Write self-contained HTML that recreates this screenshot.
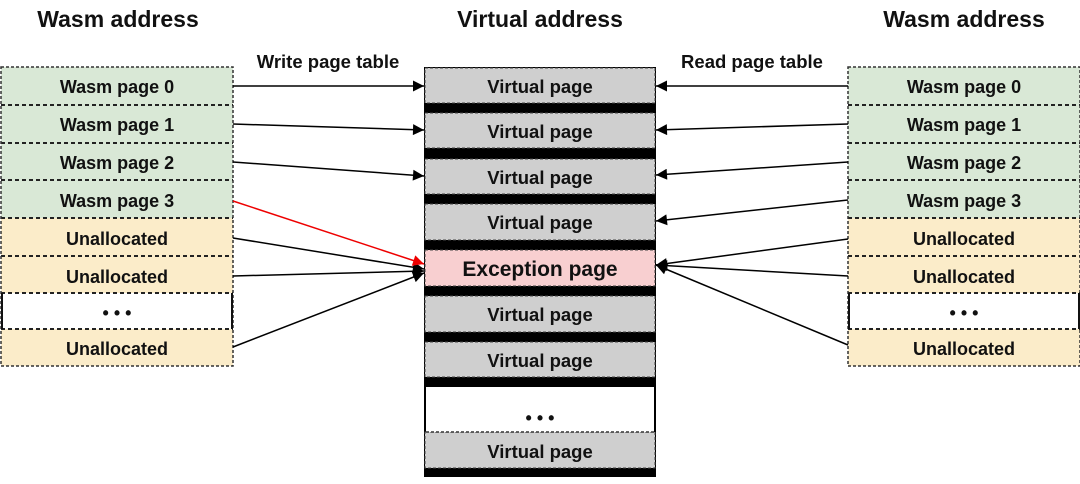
<!DOCTYPE html>
<html><head><style>
body{margin:0;width:1080px;height:479px;background:#fff;overflow:hidden;font-family:"Liberation Sans",sans-serif;font-weight:bold;color:#111}
svg text{font-family:"Liberation Sans",sans-serif;font-weight:bold;fill:#111}
</style></head><body>
<svg width="1080" height="479" xmlns="http://www.w3.org/2000/svg">
<defs>
<marker id="a" viewBox="0 0 10 10" refX="10" refY="5" markerWidth="12" markerHeight="11" orient="auto" markerUnits="userSpaceOnUse"><path d="M0,0L10,5L0,10z" fill="#000"/></marker>
<marker id="r" viewBox="0 0 10 10" refX="10" refY="5" markerWidth="12" markerHeight="11" orient="auto" markerUnits="userSpaceOnUse"><path d="M0,0L10,5L0,10z" fill="#e00"/></marker>
</defs>
<text x="118" y="27" font-size="23" text-anchor="middle">Wasm address</text>
<text x="540" y="27" font-size="23" text-anchor="middle">Virtual address</text>
<text x="964" y="27" font-size="23" text-anchor="middle">Wasm address</text>
<text x="328" y="68" font-size="18.5" text-anchor="middle">Write page table</text>
<text x="752" y="68" font-size="18.5" text-anchor="middle">Read page table</text>

<g id="L">
<rect x="1" y="67" width="232" height="151" fill="#d9e8d6"/>
<rect x="1" y="218" width="232" height="75" fill="#fbecc9"/>
<rect x="1" y="293" width="232" height="36" fill="#fff"/>
<rect x="1" y="329" width="232" height="37" fill="#fbecc9"/>
<g stroke="#222" stroke-width="2" stroke-dasharray="4,3">
<line x1="1" y1="105" x2="233" y2="105"/><line x1="1" y1="143" x2="233" y2="143"/><line x1="1" y1="180" x2="233" y2="180"/><line x1="1" y1="218" x2="233" y2="218"/><line x1="1" y1="256" x2="233" y2="256"/><line x1="1" y1="293" x2="233" y2="293"/><line x1="1" y1="329" x2="233" y2="329"/>
</g>
<rect x="1" y="67" width="232" height="299" fill="none" stroke="#333" stroke-width="1.5" stroke-dasharray="3,2"/>
<line x1="2" y1="293" x2="2" y2="329" stroke="#111" stroke-width="2"/><line x1="232" y1="293" x2="232" y2="329" stroke="#111" stroke-width="2"/>
<g font-size="18" text-anchor="middle">
<text x="117" y="93">Wasm page 0</text><text x="117" y="131">Wasm page 1</text><text x="117" y="169">Wasm page 2</text><text x="117" y="207">Wasm page 3</text>
<text x="117" y="245">Unallocated</text><text x="117" y="283">Unallocated</text><text x="117" y="319" font-size="18">• • •</text><text x="117" y="355">Unallocated</text>
</g>
</g>
<use href="#L" x="847" y="0"/>

<rect x="424" y="67" width="232" height="410" fill="#000"/>
<g fill="#cfcfcf" stroke="#444" stroke-width="1" stroke-dasharray="3,2">
<rect x="425" y="68" width="230" height="35"/>
<rect x="425" y="113" width="230" height="35"/>
<rect x="425" y="159" width="230" height="35"/>
<rect x="425" y="204" width="230" height="36"/>
<rect x="425" y="250" width="230" height="36" fill="#f8cfd0"/>
<rect x="425" y="296" width="230" height="36"/>
<rect x="425" y="342" width="230" height="35"/>
<rect x="425" y="432" width="230" height="36"/>
</g>
<rect x="426" y="387" width="228" height="45" fill="#fff"/>
<line x1="426" y1="432" x2="654" y2="432" stroke="#333" stroke-width="1.5" stroke-dasharray="3,2"/>
<g font-size="18.5" text-anchor="middle">
<text x="540" y="93">Virtual page</text><text x="540" y="138">Virtual page</text><text x="540" y="184">Virtual page</text><text x="540" y="229">Virtual page</text>
<text x="540" y="276" font-size="21">Exception page</text>
<text x="540" y="321">Virtual page</text><text x="540" y="367">Virtual page</text>
<text x="540" y="424" font-size="18">• • •</text>
<text x="540" y="458">Virtual page</text>
</g>

<g stroke="#000" stroke-width="1.5" marker-end="url(#a)">
<line x1="233" y1="86" x2="424" y2="86"/>
<line x1="233" y1="124" x2="424" y2="130"/>
<line x1="233" y1="162" x2="424" y2="176"/>
<line x1="233" y1="238" x2="424" y2="269"/>
<line x1="233" y1="276" x2="424" y2="271"/>
<line x1="233" y1="347" x2="424" y2="273"/>
<line x1="848" y1="86" x2="656" y2="86"/>
<line x1="848" y1="124" x2="656" y2="130"/>
<line x1="848" y1="162" x2="656" y2="175"/>
<line x1="848" y1="200" x2="656" y2="221"/>
<line x1="848" y1="239" x2="656" y2="265"/>
<line x1="848" y1="276" x2="656" y2="265"/>
<line x1="848" y1="345" x2="656" y2="265"/>
</g>
<line x1="233" y1="201" x2="424" y2="264" stroke="#e00" stroke-width="1.5" marker-end="url(#r)"/>
</svg>
</body></html>
